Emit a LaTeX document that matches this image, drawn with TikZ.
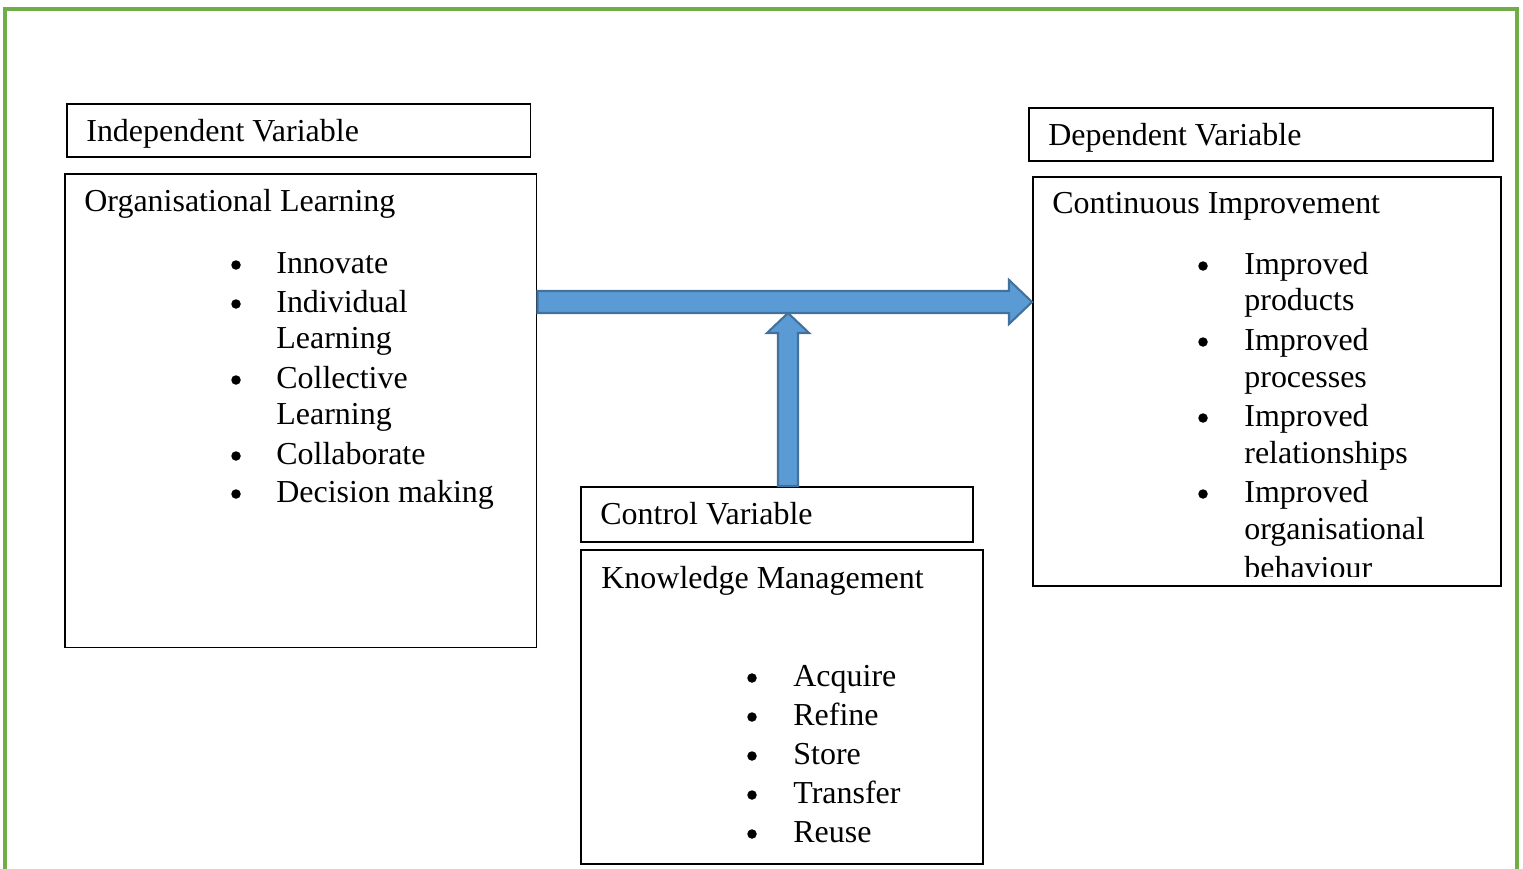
\documentclass[tikz,border=0pt]{standalone}
\usepackage{fontspec}
\setmainfont{Liberation Serif}
\definecolor{frame}{HTML}{70AD47}
\definecolor{arrowfill}{HTML}{5B9BD5}
\definecolor{arrowline}{HTML}{41719C}
\begin{document}
\begin{tikzpicture}[x=0.02cm,y=-0.02cm,
  box/.style={draw=black, line width=0.9pt, fill=white, anchor=north west, inner sep=0pt},
  txt/.style={anchor=base west, inner sep=0pt, font=\fontsize{18.2}{21.5}\selectfont},
  bul/.style={circle, fill=black, inner sep=0pt, minimum size=0.19cm},
  blk/.style={fill=arrowfill, draw=arrowline, line width=1.2pt, line join=miter}]
\useasboundingbox (0,0) rectangle (1523,868);
\clip (0,0) rectangle (1523,868);
% frame
\draw[frame, line width=2.2pt] (5,880) -- (5,9) -- (1517,9) -- (1517,880);
% boxes
\node[box, minimum width=9.28cm, minimum height=1.06cm] (ivh) at (66,103) {};
\node[box, minimum width=9.44cm, minimum height=9.48cm] (ol) at (64,173) {};
\node[box, minimum width=9.28cm, minimum height=1.06cm] (dvh) at (1028,107) {};
\node[box, minimum width=9.36cm, minimum height=8.18cm] (ci) at (1032,176) {};
\node[box, minimum width=7.84cm, minimum height=1.10cm] (cvh) at (580,486) {};
\node[box, minimum width=8.04cm, minimum height=6.28cm] (km) at (580,549) {};
% arrows
\coordinate (hs) at (ol.east |- 0,302);
\coordinate (ht) at (ci.west |- 0,302);
\draw[blk] ([yshift=11*0.02cm]hs) -- (1009,291) -- (1009,280) -- (ht) -- (1009,324) -- (1009,313) -- ([yshift=-11*0.02cm]hs) -- cycle;
\coordinate (vs) at (cvh.north -| 788,0);
\coordinate (vt) at (788,313);
\draw[blk] ([xshift=-10*0.02cm]vs) -- (778,333) -- (767,333) -- (vt) -- (809,333) -- (798,333) -- ([xshift=10*0.02cm]vs) -- cycle;
% header texts
\node[txt] (t1) at (86,142) {Independent Variable};
\node[txt] (t2) at (1048,146) {Dependent Variable};
\node[txt] (t3) at (600,524) {Control Variable};
% left box
\node[txt] (t4) at (84,212) {Organisational Learning};
\foreach \y/\b/\t [count=\i] in {273/1/Innovate, 312/1/Individual, 348/0/Learning, 388/1/Collective, 424/0/Learning, 464/1/Collaborate, 502/1/Decision making}{
  \ifnum\b=1 \node[bul] (lb\i) at (236,\y-8) {};\fi
  \node[txt] (l\i) at (276,\y) {\t};
}
% right box
\node[txt] (t5) at (1052,214) {Continuous Improvement};
\begin{scope}
\clip (1032,176) rectangle (1500,576);
\foreach \y/\b/\t [count=\i] in {274/1/Improved, 310/0/products, 350/1/Improved, 387/0/processes, 426/1/Improved, 463/0/relationships, 502/1/Improved, 539/0/organisational, 578/0/behaviour}{
  \ifnum\b=1 \node[bul] (rb\i) at (1203,\y-8) {};\fi
  \node[txt] (r\i) at (1244,\y) {\t};
}
\end{scope}
% bottom box
\node[txt] (t6) at (601,588) {Knowledge Management};
\foreach \y/\t [count=\i] in {686/Acquire, 725/Refine, 764/Store, 803/Transfer, 842/Reuse}{
  \node[bul] (kb\i) at (752,\y-8) {};
  \node[txt] (k\i) at (793,\y) {\t};
}
\end{tikzpicture}
\end{document}
